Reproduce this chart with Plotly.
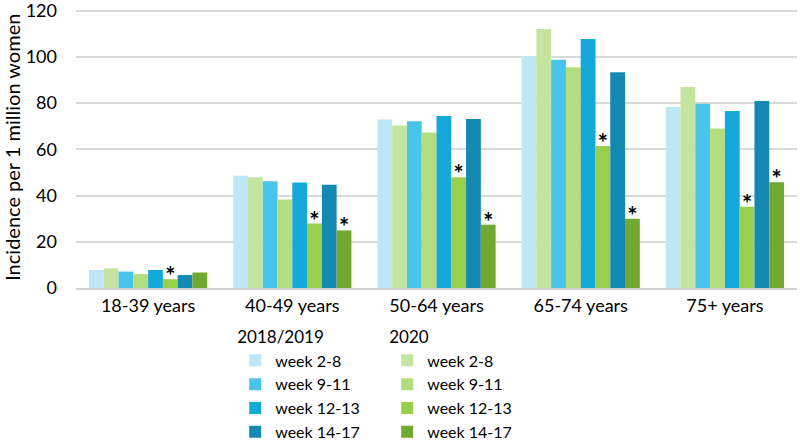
import plotly.graph_objects as go

# age groups on the x axis
age_groups = ["18-39 years", "40-49 years", "50-64 years", "65-74 years", "75+ years"]

weeks = ["week 2-8", "week 9-11", "week 12-13", "week 14-17"]

# incidence per 1 million women, 2018/2019
ref_w2_8 = [7.8, 48.6, 72.9, 100.3, 78.3]
ref_w9_11 = [7.1, 46.2, 72.1, 98.7, 79.7]
ref_w12_13 = [7.8, 45.6, 74.4, 107.7, 76.6]
ref_w14_17 = [5.6, 44.7, 73.1, 93.3, 80.9]

# 2020
y20_w2_8 = [8.5, 47.9, 70.3, 112.0, 87.0]
y20_w9_11 = [6.1, 38.3, 67.3, 95.5, 69.0]
y20_w12_13 = [3.8, 27.9, 47.9, 61.4, 35.2]
y20_w14_17 = [6.7, 24.9, 27.4, 30.0, 45.7]

# significant differences (2020 vs 2018/2019) marked with *
no_sig = [False] * 5
sig_w12_13 = [True, True, True, True, True]
sig_w14_17 = [False, True, True, True, True]

ref_series = [ref_w2_8, ref_w9_11, ref_w12_13, ref_w14_17]
y20_series = [y20_w2_8, y20_w9_11, y20_w12_13, y20_w14_17]
y20_sig = [no_sig, no_sig, sig_w12_13, sig_w14_17]

blues = ["#BDE7F6", "#49C4ED", "#14A9D8", "#1489B2"]
greens = ["#C4E59F", "#B3DD7F", "#98CF4D", "#70A830"]

FONT = "Lato"

fig = go.Figure()
for i, week in enumerate(weeks):
    fig.add_trace(go.Bar(
        x=age_groups, y=ref_series[i], name=week,
        marker=dict(color=blues[i], line=dict(width=0)),
        legend="legend",
    ))
    fig.add_trace(go.Bar(
        x=age_groups, y=y20_series[i], name=week,
        marker=dict(color=greens[i], line=dict(width=0)),
        legend="legend2",
    ))

# stars: text-only scatter traces grouped the same way as the bars
for i in range(len(weeks)):
    for vals, sig in [(ref_series[i], no_sig), (y20_series[i], y20_sig[i])]:
        fig.add_trace(go.Scatter(
            x=age_groups, y=vals, mode="text",
            text=["*" if s else "" for s in sig],
            textposition="middle center",
            textfont=dict(size=24, color="black", family=FONT, weight="bold"),
            cliponaxis=False, showlegend=False, hoverinfo="skip",
        ))

legend_style = dict(
    xref="container", yref="container",
    y=0.273, xanchor="left", yanchor="top",
    itemwidth=30, tracegroupgap=0, font=dict(size=16),
    bgcolor="rgba(0,0,0,0)",
)

fig.update_layout(
    width=800, height=442,
    margin=dict(l=76, r=3, t=6, b=154, autoexpand=False),
    paper_bgcolor="white", plot_bgcolor="white",
    font=dict(family=FONT, size=18, color="black"),
    barmode="group", bargap=0.18, bargroupgap=0,
    scattermode="group", scattergap=0.18,
    legend=dict(title=dict(text="2018/2019", font=dict(size=17)), x=0.294, **legend_style),
    legend2=dict(title=dict(text="2020", font=dict(size=17)), x=0.484, **legend_style),
    showlegend=True,
    annotations=[dict(
        text="Incidence per 1 million women", textangle=-90,
        xref="paper", yref="paper", x=-0.089, y=0.5,
        xanchor="center", yanchor="middle", showarrow=False,
        font=dict(size=20),
    )],
)

fig.update_xaxes(
    showline=True, linecolor="#D0D0D0", linewidth=2,
    showgrid=False, ticks="", tickfont=dict(size=18),
)
fig.update_yaxes(
    range=[0, 122], tickvals=[0, 20, 40, 60, 80, 100, 120],
    showgrid=True, gridcolor="#D9D9D9", gridwidth=2,
    zeroline=False, showline=False, ticks="",
    ticklabelstandoff=18, ticklabeloverflow="allow", tickfont=dict(size=18),
)

# page has a default body margin, drop it so the chart sits at the corner
fig.write_html("out.html", config={"displayModeBar": False},
               post_script="document.body.style.margin='0';")
